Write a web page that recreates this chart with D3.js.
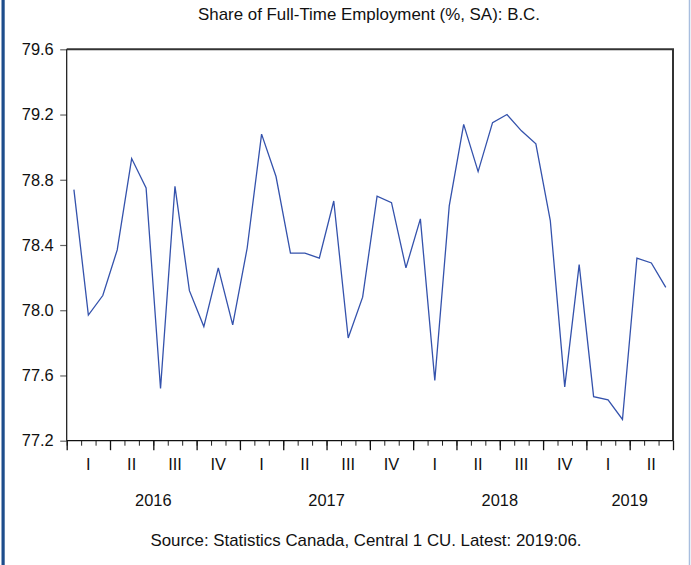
<!DOCTYPE html>
<html>
<head>
<meta charset="utf-8">
<script src="https://cdn.jsdelivr.net/npm/d3@7"></script>
<style>
  html, body { margin: 0; padding: 0; background: #fff; }
  svg { display: block; }
  text { font-family: "Liberation Sans", Arial, sans-serif; fill: #111; }
</style>
</head>
<body>
<svg id="chart" width="691" height="565"></svg>
<script>
// ---- data ----
const title = "Share of Full-Time Employment (%, SA): B.C.";
const source = "Source: Statistics Canada, Central 1 CU. Latest: 2019:06.";
const years = ["2016", "2017", "2018", "2019"];
const quarterLabels = ["I", "II", "III", "IV", "I", "II", "III", "IV", "I", "II", "III", "IV", "I", "II"];
const yTicks = [77.2, 77.6, 78.0, 78.4, 78.8, 79.2, 79.6];
// monthly values, Jan 2016 .. Jun 2019
const share = [
  78.74, 77.97, 78.09, 78.37, 78.93, 78.75, 77.52, 78.76, 78.12, 77.90, 78.26, 77.91,
  78.38, 79.08, 78.82, 78.35, 78.35, 78.32, 78.67, 77.83, 78.08, 78.70, 78.66, 78.26,
  78.56, 77.57, 78.64, 79.14, 78.85, 79.15, 79.20, 79.10, 79.02, 78.55, 77.53, 78.28,
  77.47, 77.45, 77.33, 78.32, 78.29, 78.14
];

// ---- layout ----
const svg = d3.select("#chart");
const L = 66.7, R = 673.0, T = 49.3, B = 440.7;
const nMonths = share.length;

const x = d3.scaleLinear().domain([0, nMonths]).range([L, R]);
const y = d3.scaleLinear().domain([77.2, 79.6]).range([B, T]);

// page frame lines
svg.append("rect").attr("x", 1.5).attr("y", 0).attr("width", 3.2).attr("height", 565).attr("fill", "#1d4d8c");
svg.append("line").attr("x1", 689.5).attr("x2", 689.5).attr("y1", 0).attr("y2", 565)
  .attr("stroke", "#a8bedf").attr("stroke-width", 1.5);

// title
svg.append("text").attr("x", 369).attr("y", 20).attr("text-anchor", "middle")
  .attr("font-size", 17).attr("textLength", 342).attr("lengthAdjust", "spacingAndGlyphs")
  .text(title);

// y axis
const yAxis = svg.append("g").attr("transform", `translate(${L},0)`)
  .call(d3.axisLeft(y).tickValues(yTicks).tickSize(6.5).tickPadding(6.5).tickFormat(d3.format(".1f")));
yAxis.select(".domain").remove();
yAxis.selectAll(".tick line").attr("stroke", "#666").attr("stroke-width", 1.2);
yAxis.selectAll(".tick text").attr("font-size", 16.4).attr("fill", "#111")
  .attr("font-family", "'Liberation Sans', Arial, sans-serif");

// x axis ticks: minor each month, major each quarter
const monthIdx = d3.range(0, nMonths + 1);
const quarterIdx = monthIdx.filter(i => i % 3 === 0);
const xMinor = svg.append("g").attr("transform", `translate(0,${B})`)
  .call(d3.axisBottom(x).tickValues(monthIdx).tickSize(5).tickFormat(""));
xMinor.select(".domain").remove();
xMinor.selectAll(".tick line").attr("stroke", "#222");
const xMajor = svg.append("g").attr("transform", `translate(0,${B})`)
  .call(d3.axisBottom(x).tickValues(quarterIdx).tickSize(9.5).tickFormat(""));
xMajor.select(".domain").remove();
xMajor.selectAll(".tick line").attr("stroke", "#111").attr("stroke-width", 1.3);

// quarter labels
svg.append("g").selectAll("text").data(quarterLabels).join("text")
  .attr("x", (d, i) => x(i * 3 + 1.5)).attr("y", 470)
  .attr("text-anchor", "middle").attr("font-size", 16.4).text(d => d);

// year labels
svg.append("g").selectAll("text").data(years).join("text")
  .attr("x", (d, i) => x((i * 12 + Math.min(i * 12 + 12, nMonths)) / 2)).attr("y", 506)
  .attr("text-anchor", "middle").attr("font-size", 16.4).text(d => d);

// plot frame
svg.append("line").attr("x1", L).attr("x2", R + 1).attr("y1", T).attr("y2", T)
  .attr("stroke", "#333").attr("stroke-width", 2);
svg.append("line").attr("x1", R).attr("x2", R).attr("y1", T).attr("y2", B)
  .attr("stroke", "#333").attr("stroke-width", 2);
svg.append("line").attr("x1", L).attr("x2", L).attr("y1", T).attr("y2", B)
  .attr("stroke", "#111").attr("stroke-width", 1.2);
svg.append("line").attr("x1", L).attr("x2", R).attr("y1", B).attr("y2", B)
  .attr("stroke", "#111").attr("stroke-width", 1.2);

// series line
const line = d3.line().x((d, i) => x(i + 0.5)).y(d => y(d));
svg.append("path").datum(share).attr("d", line)
  .attr("fill", "none").attr("stroke", "#3452ac").attr("stroke-width", 1.3)
  .attr("stroke-linejoin", "miter");

// source
svg.append("text").attr("x", 366).attr("y", 546).attr("text-anchor", "middle")
  .attr("font-size", 17).attr("textLength", 431).attr("lengthAdjust", "spacingAndGlyphs")
  .text(source);
</script>
</body>
</html>
